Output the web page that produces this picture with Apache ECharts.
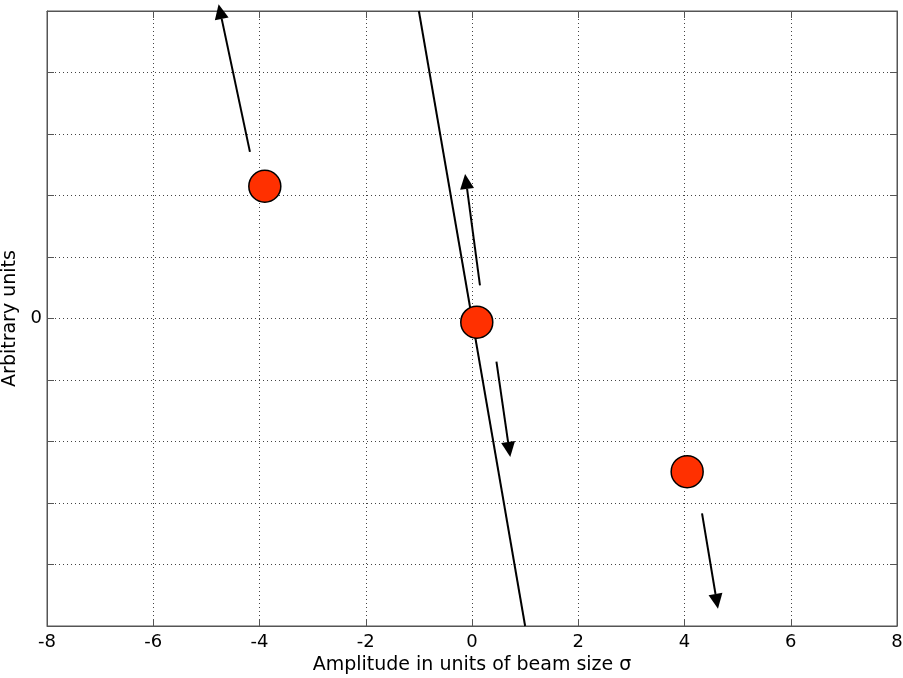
<!DOCTYPE html>
<html>
<head>
<meta charset="utf-8">
<script src="https://cdn.jsdelivr.net/npm/echarts@6/dist/echarts.min.js"></script>
<style>html,body{margin:0;padding:0;background:#fff}#c{width:903px;height:678px}</style>
</head>
<body>
<div id="c"></div>
<script>
// Data
const xTicks = [-8, -6, -4, -2, 0, 2, 4, 6, 8];
const yLabelShown = [0];
const pointX = [-3.90, 0.09, 4.05];
const pointY = [2.15, -0.06, -2.49];
const lineX = [-1, 1];
const lineY = [5, -5];
const arrowTail = [[-4.18, 2.71], [0.15, 0.54], [0.46, -0.70], [4.33, -3.17]];
const arrowTip = [[-4.77, 5.11], [-0.13, 2.35], [0.72, -2.25], [4.63, -4.72]];

const font = '"DejaVu Sans", "Liberation Sans", Arial, sans-serif';
const axisCol = '#555';
const gridLine = {show: true, lineStyle: {color: '#444', type: [1, 3], width: 1}};

const chart = echarts.init(document.getElementById('c'), null, {renderer: 'canvas'});
chart.setOption({
  animation: false,
  backgroundColor: '#fff',
  grid: {left: 47, right: 6, top: 11, bottom: 52, show: true, borderColor: axisCol, borderWidth: 1,
    containLabel: false, outerBoundsMode: 'none'},
  xAxis: [{
    type: 'value', min: -8, max: 8, interval: 2, position: 'bottom',
    name: 'Amplitude in units of beam size σ', nameLocation: 'middle', nameGap: 28,
    nameTextStyle: {fontFamily: font, fontSize: 19, color: '#000'},
    axisLine: {show: true, onZero: false, lineStyle: {color: axisCol}},
    axisTick: {show: true, inside: true, length: 7, lineStyle: {color: axisCol}},
    axisLabel: {fontFamily: font, fontSize: 18, color: '#000', margin: 7,
      formatter: v => xTicks.includes(v) ? String(v) : ''},
    splitLine: gridLine
  }, {
    type: 'value', min: -8, max: 8, interval: 2, position: 'top',
    axisLine: {show: true, onZero: false, lineStyle: {color: axisCol}},
    axisTick: {show: true, inside: true, length: 7, lineStyle: {color: axisCol}},
    axisLabel: {show: false}, splitLine: {show: false}
  }],
  yAxis: [{
    type: 'value', min: -5, max: 5, interval: 1, position: 'left',
    name: 'Arbitrary units', nameLocation: 'middle', nameGap: 25,
    nameTextStyle: {fontFamily: font, fontSize: 19, color: '#000'},
    axisLine: {show: true, onZero: false, lineStyle: {color: axisCol}},
    axisTick: {show: true, inside: true, length: 7, lineStyle: {color: axisCol}},
    axisLabel: {fontFamily: font, fontSize: 18, color: '#000', margin: 5,
      formatter: v => yLabelShown.includes(v) ? String(v) : ''},
    splitLine: gridLine
  }, {
    type: 'value', min: -5, max: 5, interval: 1, position: 'right',
    axisLine: {show: true, onZero: false, lineStyle: {color: axisCol}},
    axisTick: {show: true, inside: true, length: 7, lineStyle: {color: axisCol}},
    axisLabel: {show: false}, splitLine: {show: false}
  }],
  series: [{
    type: 'line', xAxisIndex: 0, yAxisIndex: 0,
    data: lineX.map((x, i) => [x, lineY[i]]),
    showSymbol: false, symbol: 'none',
    lineStyle: {color: '#000', width: 2}, z: 2
  }, {
    type: 'custom', xAxisIndex: 0, yAxisIndex: 0, clip: false,
    data: arrowTail.map((t, i) => [t[0], t[1], arrowTip[i][0], arrowTip[i][1]]),
    encode: {x: [0, 2], y: [1, 3]},
    renderItem: function (params, api) {
      const a = api.coord([api.value(0), api.value(1)]);
      const b = api.coord([api.value(2), api.value(3)]);
      const dx = b[0] - a[0], dy = b[1] - a[1];
      const len = Math.sqrt(dx * dx + dy * dy);
      const ux = dx / len, uy = dy / len;
      const L = 15, W = 14;
      const bx = b[0] - ux * L, by = b[1] - uy * L;
      const px = -uy * W / 2, py = ux * W / 2;
      return {
        type: 'group',
        children: [{
          type: 'line',
          shape: {x1: a[0], y1: a[1], x2: bx, y2: by},
          style: {stroke: '#000', lineWidth: 2}
        }, {
          type: 'polygon',
          shape: {points: [[b[0], b[1]], [bx + px, by + py], [bx - px, by - py]]},
          style: {fill: '#000'}
        }]
      };
    },
    z: 3
  }, {
    type: 'scatter', xAxisIndex: 0, yAxisIndex: 0,
    data: pointX.map((x, i) => [x, pointY[i]]),
    symbol: 'circle', symbolSize: 32,
    itemStyle: {color: '#ff3000', borderColor: '#000', borderWidth: 1.5, opacity: 1},
    z: 4
  }]
});
</script>
</body>
</html>
